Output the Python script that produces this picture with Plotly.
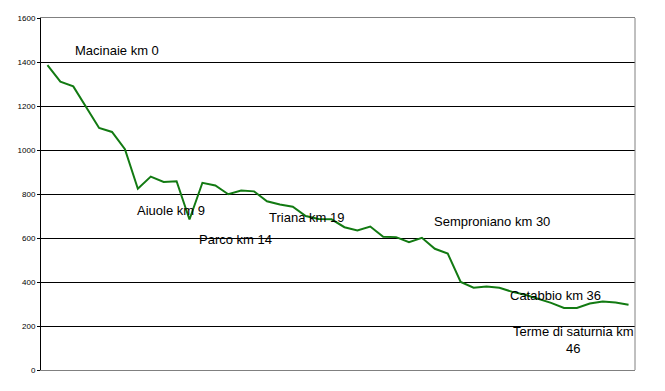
import plotly.graph_objects as go

# elevation profile (one point per sampled position along the route)
elevation = [1386, 1311, 1289, 1195, 1100, 1082, 1004, 824, 879, 855,
             858, 684, 851, 839, 799, 816, 812, 767, 752, 742,
             700, 686, 685, 649, 634, 652, 606, 604, 581, 601,
             551, 529, 400, 374, 379, 374, 355, 342, 323, 305,
             282, 282, 302, 311, 307, 297]
positions = list(range(len(elevation)))

y_ticks = [0, 200, 400, 600, 800, 1000, 1200, 1400, 1600]

labels = ["Macinaie km 0", "Aiuole km 9", "Parco km 14", "Triana km 19",
          "Semproniano km 30", "Catabbio km 36", "Terme di saturnia km<br>46"]
label_x = [1.97, 6.78, 11.58, 17.0, 29.78, 35.66, 40.75]
label_y = [1452, 724, 593, 692, 674, 337, 135]
label_anchor = ["left", "left", "left", "left", "left", "left", "center"]

fig = go.Figure()
fig.add_trace(go.Scatter(
    x=positions, y=elevation, mode="lines",
    line=dict(color="#127a12", width=2), hoverinfo="skip", showlegend=False))

for t, x, y, a in zip(labels, label_x, label_y, label_anchor):
    fig.add_annotation(x=x, y=y, text=t, showarrow=False, xanchor=a,
                       yanchor="middle", align="center",
                       font=dict(family="Liberation Sans, Arial", size=13, color="black"))

fig.add_shape(type="line", xref="paper", yref="paper", x0=1, x1=1, y0=0, y1=1,
              line=dict(color="#808080", width=1))

fig.update_layout(
    width=657, height=383,
    margin=dict(l=33, r=30, t=6, b=21),
    paper_bgcolor="white", plot_bgcolor="white",
    xaxis=dict(range=[-0.5, len(elevation) - 0.5], showgrid=False, zeroline=False,
               showticklabels=False, ticks="", showline=True, linecolor="#808080",
               linewidth=1, mirror=True),
    yaxis=dict(range=[0, 1600], tickvals=y_ticks,
               ticktext=[str(v) for v in y_ticks],
               showgrid=True, gridcolor="black", gridwidth=1, zeroline=False,
               showline=True, linecolor="black", linewidth=1,
               ticks="outside", ticklen=3, tickcolor="black",
               tickfont=dict(family="Liberation Sans, Arial", size=8, color="black")),
)

fig.write_html("out.html")
